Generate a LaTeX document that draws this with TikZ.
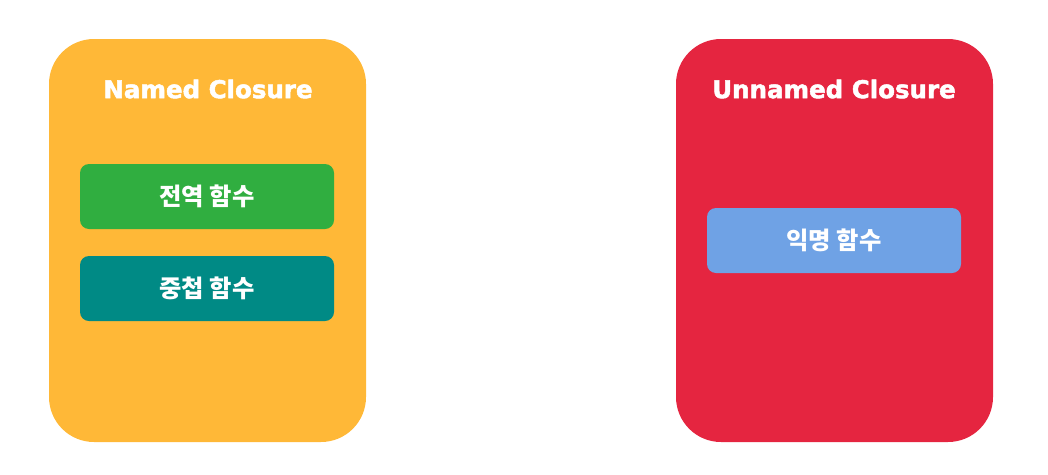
\documentclass[tikz,border=0pt]{standalone}
\usepackage{fontspec}
\setmainfont{DejaVu Sans}
\newfontfamily\titlefont{DejaVu Sans}[BoldFeatures={FakeBold=2}]
\newfontfamily\krfont{Noto Sans CJK KR}
\definecolor{closureorange}{HTML}{FFB837}
\definecolor{closurered}{HTML}{E52540}
\definecolor{fngreen}{HTML}{30AE40}
\definecolor{fnteal}{HTML}{008A85}
\definecolor{fnblue}{HTML}{6FA2E5}
\tikzset{
	closure/.style={rounded corners=45pt,minimum width=317pt,minimum height=403pt,inner sep=0pt},
	title/.style={text=white,font=\titlefont\fontsize{24.5}{26}\selectfont\bfseries},
	fn/.style={rounded corners=9pt,minimum width=254pt,minimum height=65pt,inner sep=0pt,
		text=white,font=\krfont\fontsize{24.3}{26}\selectfont\bfseries}
}
\begin{document}
\begin{tikzpicture}[x=1pt,y=-1pt]
			\useasboundingbox (0,0) rectangle (1048,474);
			\node[closure,fill=closureorange] (named) at (207.5,240.5) {};
			\node[closure,fill=closurered] (unnamed) at (834.5,240.5) {};
			\node[title] (namedtitle) at (208,89) {Named Closure};
			\node[title] (unnamedtitle) at (834,89) {Unnamed Closure};

			\node[fn,fill=fngreen] (global) at (207,196.5) {전역 함수};
			\node[fn,fill=fnteal] (nested) at (207,288.5) {중첩 함수};
			\node[fn,fill=fnblue] (anon) at (834,240.5) {익명 함수};
\end{tikzpicture}
\end{document}
